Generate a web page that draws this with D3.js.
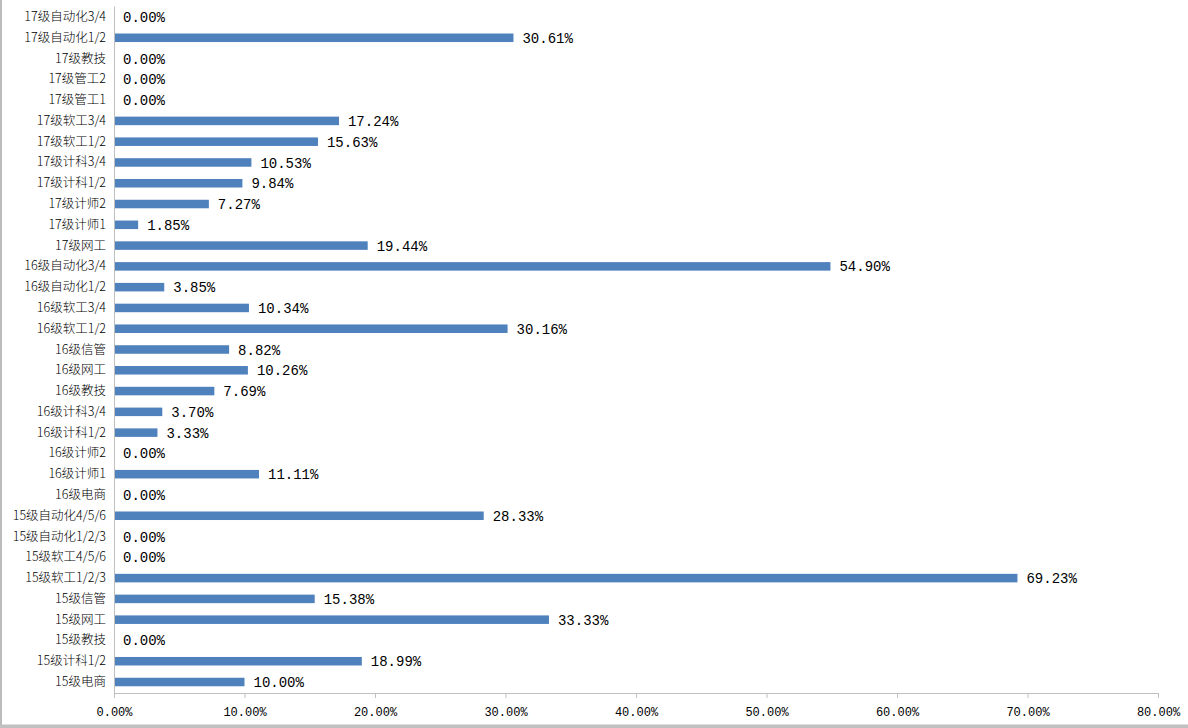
<!DOCTYPE html>
<html><head><meta charset="utf-8">
<script src="https://cdn.jsdelivr.net/npm/d3@7"></script>
<style>body{margin:0;background:#fff;}svg{display:block;}</style>
</head><body>
<svg id="c" width="1188" height="728"></svg>
<script>
const categories = ["15级电商","15级计科1/2","15级教技","15级网工","15级信管","15级软工1/2/3","15级软工4/5/6","15级自动化1/2/3","15级自动化4/5/6","16级电商","16级计师1","16级计师2","16级计科1/2","16级计科3/4","16级教技","16级网工","16级信管","16级软工1/2","16级软工3/4","16级自动化1/2","16级自动化3/4","17级网工","17级计师1","17级计师2","17级计科1/2","17级计科3/4","17级软工1/2","17级软工3/4","17级管工1","17级管工2","17级教技","17级自动化1/2","17级自动化3/4"];
const values = [10.00,18.99,0,33.33,15.38,69.23,0,0,28.33,0,11.11,0,3.33,3.70,7.69,10.26,8.82,30.16,10.34,3.85,54.90,19.44,1.85,7.27,9.84,10.53,15.63,17.24,0,0,0,30.61,0];
const ticks = [0,10,20,30,40,50,60,70,80];

(function(){
const svg = d3.select("#c");
const pl = 114, pr = 1158, pt = 6.6, pb = 692.4;
const x = d3.scaleLinear().domain([0,80]).range([pl,pr]);
const y = d3.scaleBand().domain(categories.slice().reverse()).range([pt,pb]).paddingInner(0.59).paddingOuter(0.295);

// outer frame
svg.append("line").attr("x1",1).attr("x2",1).attr("y1",0).attr("y2",726).attr("stroke","#a6a6a6").attr("stroke-width",1.5);
svg.append("rect").attr("x",0).attr("y",724.5).attr("width",1188).attr("height",4).attr("fill","#c0c0c0");

// bars
svg.append("g").selectAll("rect").data(categories).join("rect")
  .attr("x",x(0)).attr("y",d=>y(d)).attr("height",y.bandwidth())
  .attr("width",(d,i)=>x(values[i])-x(0)).attr("fill","#4f81bd");

// value labels
svg.append("g").selectAll("text").data(categories).join("text")
  .attr("x",(d,i)=>x(values[i])+9).attr("y",d=>y(d)+y.bandwidth()/2)
  .attr("dy","0.36em").attr("font-family","Liberation Mono, DejaVu Sans Mono, monospace")
  .attr("font-size",14).attr("fill","#000")
  .text((d,i)=>values[i].toFixed(2)+"%");

// y axis
const ya = svg.append("g").attr("transform",`translate(${pl},0)`).call(d3.axisLeft(y).tickSize(0).tickPadding(8));
ya.select(".domain").attr("stroke","#bfbfbf").attr("d",`M0.5,${pt}V${pb+0.6}`);
ya.selectAll("text").attr("font-family","Noto Sans CJK SC, sans-serif").attr("font-weight",300).attr("font-size",12.5).attr("fill","#000");

// x axis
const xa = svg.append("g").attr("transform",`translate(0,${pb+0.6})`)
  .call(d3.axisBottom(x).tickValues(ticks).tickSize(5).tickSizeOuter(0).tickPadding(9).tickFormat(d=>d.toFixed(2)+"%"));
xa.select(".domain").attr("stroke","#bfbfbf");
xa.selectAll(".tick line").attr("stroke","#bfbfbf");
xa.selectAll("text").attr("font-family","Liberation Mono, DejaVu Sans Mono, monospace").attr("font-size",12).attr("fill","#000");
})();
</script>
</body></html>
